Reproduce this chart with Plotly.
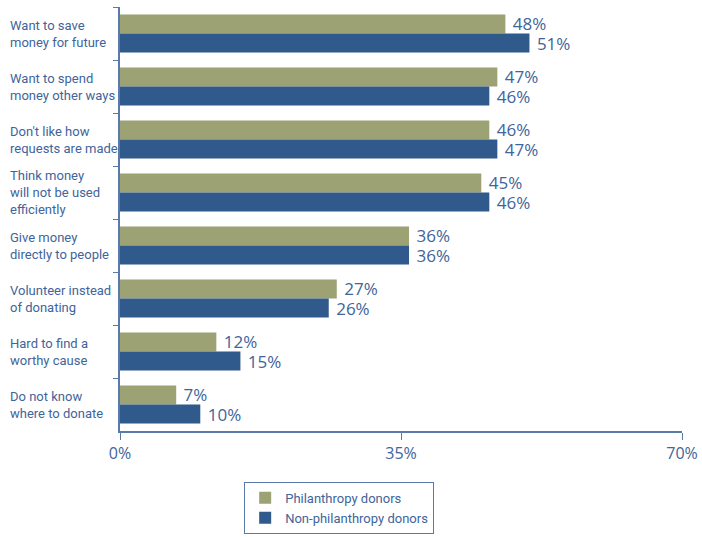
import plotly.graph_objects as go

categories = [
    "Want to save<br>money for future",
    "Want to spend<br>money other ways",
    "Don't like how<br>requests are made",
    "Think money<br>will not be used<br>efficiently",
    "Give money<br>directly to people",
    "Volunteer instead<br>of donating",
    "Hard to find a<br>worthy cause",
    "Do not know<br>where to donate",
]
philanthropy = [48, 47, 46, 45, 36, 27, 12, 7]
non_philanthropy = [51, 46, 47, 46, 36, 26, 15, 10]
series_names = ["Philanthropy donors", "Non-philanthropy donors"]
tick_vals = [0, 35, 70]
tick_text = ["0%", "35%", "70%"]

GREEN = "#9ca274"
BLUE = "#2f5a8b"
TXT = "#41649a"
AXIS = "#5a7aab"
COND = "Roboto"
ROUND = "Open Sans"

fig = go.Figure()
for name, vals, col in [(series_names[0], philanthropy, GREEN),
                        (series_names[1], non_philanthropy, BLUE)]:
    fig.add_trace(go.Bar(
        name=name, y=categories, x=vals, orientation="h",
        marker=dict(color=col, line=dict(width=0)),
        text=[f" {v}%" for v in vals], textposition="outside",
        textfont=dict(family=ROUND, size=17, color=TXT),
        constraintext="none",
        cliponaxis=False,
    ))

for c in categories:
    fig.add_annotation(
        x=0, y=c, xref="paper", yref="y", xanchor="left", xshift=-112,
        text=c, showarrow=False, align="left",
        font=dict(family=COND, size=13, color=TXT),
    )

fig.update_layout(
    width=702, height=537,
    margin=dict(l=120, r=20, t=7, b=106, autoexpand=False),
    paper_bgcolor="white", plot_bgcolor="white",
    barmode="group", bargap=0.28, bargroupgap=0,
    showlegend=True,
    legend=dict(
        x=0.39, xanchor="center", y=-0.12, yanchor="top",
        bordercolor=AXIS, borderwidth=1,
        font=dict(family=COND, size=13, color=TXT),
        traceorder="normal",
        tracegroupgap=6,
    ),
    xaxis=dict(
        range=[0, 70], tickvals=tick_vals, ticktext=tick_text,
        showgrid=False, zeroline=False, showline=True, linecolor=AXIS,
        linewidth=1.5, ticks="outside", ticklen=7, tickcolor=AXIS,
        tickfont=dict(family=ROUND, size=16, color=TXT),
        fixedrange=True,
    ),
    yaxis=dict(
        autorange="reversed", showticklabels=False, showgrid=False,
        zeroline=False, showline=True, linecolor=AXIS, linewidth=1.5,
        ticks="outside", ticklen=5, tickcolor=AXIS, tickson="boundaries",
    ),
)

fig.write_html("out.html")
